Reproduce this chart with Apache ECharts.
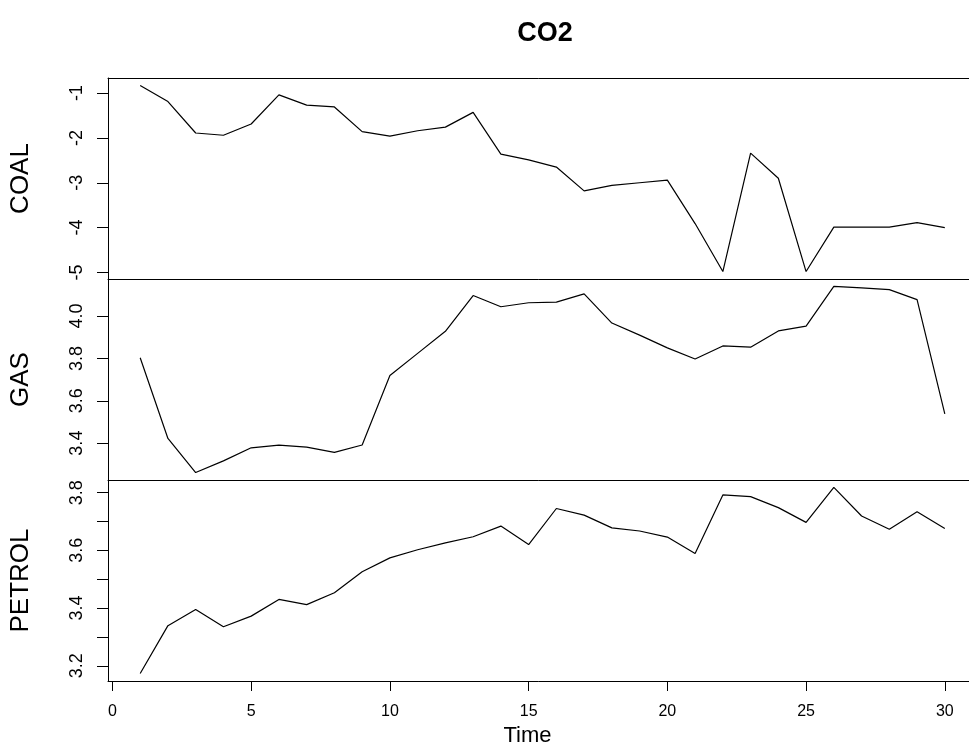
<!DOCTYPE html>
<html>
<head>
<meta charset="utf-8">
<script src="https://cdn.jsdelivr.net/npm/echarts@6/dist/echarts.min.js"></script>
<style>
  html, body { margin: 0; padding: 0; background: #fff; }
  #chart { width: 969px; height: 756px; }
</style>
</head>
<body>
<div id="chart"></div>
<script>
const time = [1, 2, 3, 4, 5, 6, 7, 8, 9, 10, 11, 12, 13, 14, 15, 16, 17, 18, 19, 20, 21, 22, 23, 24, 25, 26, 27, 28, 29, 30]

const coal = [-0.83, -1.19, -1.89, -1.94, -1.69, -1.04, -1.27, -1.31, -1.86, -1.96,
  -1.84, -1.76, -1.43, -2.36, -2.49, -2.65, -3.18, -3.06, -3.00, -2.94,
  -3.91, -4.98, -2.34, -2.90, -4.98, -3.99, -3.99, -3.99, -3.89, -4.00]

const gas = [3.803, 3.422, 3.261, 3.316, 3.378, 3.391, 3.381, 3.356, 3.391, 3.719,
  3.824, 3.928, 4.097, 4.044, 4.063, 4.066, 4.105, 3.967, 3.910, 3.850,
  3.797, 3.859, 3.853, 3.930, 3.953, 4.140, 4.133, 4.125, 4.078, 3.538]

const petrol = [3.173, 3.339, 3.395, 3.335, 3.372, 3.430, 3.412, 3.453, 3.526, 3.574,
  3.602, 3.626, 3.647, 3.684, 3.620, 3.745, 3.722, 3.678, 3.667, 3.646,
  3.589, 3.792, 3.786, 3.748, 3.697, 3.818, 3.719, 3.673, 3.734, 3.676]

const panelNames = ['COAL', 'GAS', 'PETROL']
const xTicks = [0, 5, 10, 15, 20, 25, 30]
const coalTicks = [-5, -4, -3, -2, -1]
const gasTicks = [3.4, 3.6, 3.8, 4.0]
const petrolTicks = [3.2, 3.3, 3.4, 3.5, 3.6, 3.7, 3.8]
const petrolLabels = [3.2, 3.4, 3.6, 3.8]

const FONT = '"Liberation Sans", Arial, sans-serif'
const BOX = { show: true, onZero: false, lineStyle: { color: '#000', width: 1 } }

// R style range: data range padded by 4% on each side
function padRange(vals) {
  const lo = Math.min(...vals)
  const hi = Math.max(...vals)
  const p = (hi - lo) * 0.04
  return [lo - p, hi + p]
}

const xRange = padRange(time)

const panels = [
  { name: panelNames[0], data: coal, ticks: coalTicks, labels: coalTicks, fmt: v => String(v) },
  { name: panelNames[1], data: gas, ticks: gasTicks, labels: gasTicks, fmt: v => v.toFixed(1) },
  { name: panelNames[2], data: petrol, ticks: petrolTicks, labels: petrolLabels, fmt: v => v.toFixed(1) }
]

const grids = []
const xAxes = []
const yAxes = []
const series = []

panels.forEach((p, i) => {
  grids.push({
    left: 108,
    top: 78 + i * 201,
    width: 869,
    height: 201,
    outerBoundsMode: 'none',
    containLabel: false
  })
  const last = i === panels.length - 1
  xAxes.push({
    type: 'value',
    gridIndex: i,
    position: 'bottom',
    min: xRange[0],
    max: xRange[1],
    axisLine: BOX,
    splitLine: { show: false },
    axisTick: {
      show: last,
      length: 10,
      customValues: xTicks,
      lineStyle: { color: '#000', width: 1 }
    },
    axisLabel: {
      show: last,
      customValues: xTicks,
      margin: 23,
      color: '#000',
      fontFamily: FONT,
      fontSize: 16
    },
    name: last ? 'Time' : '',
    nameLocation: 'middle',
    nameGap: 44,
    nameTextStyle: { color: '#000', fontFamily: FONT, fontSize: 22, padding: [0, 30, 0, 0] }
  })
  const yr = padRange(p.data)
  yAxes.push({
    type: 'value',
    gridIndex: i,
    position: 'left',
    min: yr[0],
    max: yr[1],
    axisLine: BOX,
    splitLine: { show: false },
    axisTick: {
      show: true,
      length: 11,
      customValues: p.ticks,
      lineStyle: { color: '#000', width: 1 }
    },
    axisLabel: {
      customValues: p.labels,
      rotate: 90,
      margin: 22,
      color: '#000',
      fontFamily: FONT,
      fontSize: 18,
      formatter: p.fmt
    },
    name: p.name,
    nameLocation: 'middle',
    nameRotate: 90,
    nameGap: 74,
    nameTextStyle: { color: '#000', fontFamily: FONT, fontSize: 26 }
  })
  series.push({
    name: p.name,
    type: 'line',
    xAxisIndex: i,
    yAxisIndex: i,
    data: time.map((t, k) => [t, p.data[k]]),
    symbol: 'none',
    silent: true,
    lineStyle: { color: '#000', width: 1.2 }
  })
})

// top edge of the outer box
xAxes.push({
  type: 'value',
  gridIndex: 0,
  position: 'top',
  min: xRange[0],
  max: xRange[1],
  axisLine: BOX,
  axisTick: { show: false },
  axisLabel: { show: false },
  splitLine: { show: false }
})

const chart = echarts.init(document.getElementById('chart'), null, { renderer: 'canvas' })
chart.setOption({
  animation: false,
  backgroundColor: '#fff',
  title: {
    text: 'CO2',
    left: 540,
    textAlign: 'center',
    top: 15,
    textStyle: { color: '#000', fontFamily: FONT, fontSize: 27, fontWeight: 'bold' }
  },
  grid: grids,
  xAxis: xAxes,
  yAxis: yAxes,
  series: series
})
</script>
</body>
</html>
